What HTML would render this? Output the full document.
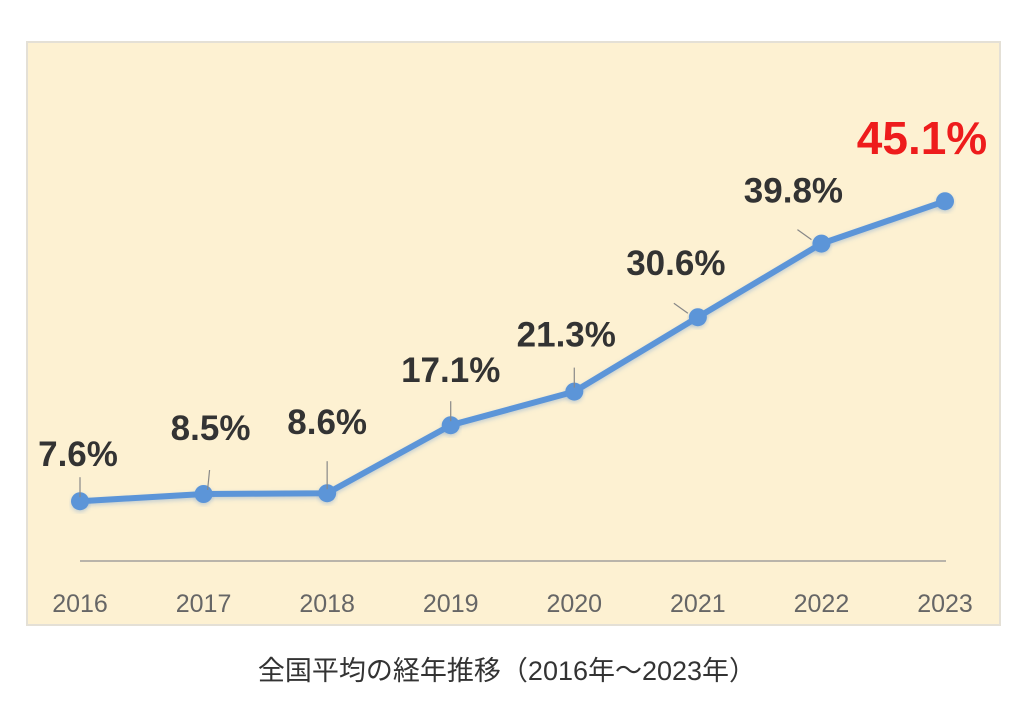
<!DOCTYPE html>
<html><head><meta charset="utf-8"><style>
body{margin:0;background:#fff;width:1024px;height:728px;overflow:hidden}
svg{display:block}
</style></head><body>
<svg width="1024" height="728">
<defs><filter id="sh" x="-10%" y="-10%" width="120%" height="130%"><feDropShadow dx="0" dy="2" stdDeviation="2" flood-color="#5b8fd0" flood-opacity="0.35"/></filter></defs>
<rect x="27" y="42" width="973" height="583" fill="#fdf1d2" stroke="#e4e0d6" stroke-width="2"/>
<line x1="80" y1="561" x2="946" y2="561" stroke="#b9b4aa" stroke-width="2"/>
<g id="xt"></g><g id="lines"></g><g id="marks"></g><g id="labels"></g>
<text x="507" y="680" text-anchor="middle" font-family="'Liberation Sans','Noto Sans CJK JP',sans-serif" font-size="27" fill="#333">全国平均の経年推移（2016年〜2023年）</text>
</svg>
<script>
const categories=["2016","2017","2018","2019","2020","2021","2022","2023"];
const values=[7.6,8.5,8.6,17.1,21.3,30.6,39.8,45.1];
const valueLabels=["7.6%","8.5%","8.6%","17.1%","21.3%","30.6%","39.8%","45.1%"];
const ns="http://www.w3.org/2000/svg";
const x0=80,x1=945;
function xs(i){return x0+(x1-x0)*i/(categories.length-1);}
function ys(v){return 562-8*v;}
function mk(t,a,p){const e=document.createElementNS(ns,t);for(const k in a)e.setAttribute(k,a[k]);p.appendChild(e);return e;}
const xt=document.getElementById('xt'),ln=document.getElementById('lines'),mg=document.getElementById('marks'),lg=document.getElementById('labels');
const ldx=[-2,7,0,0,-8,-22,-28,-23];
const ldy=[-35,-54,-59,-43,-45,-42,-41,-47];
categories.forEach((c,i)=>{
 const t=mk('text',{x:xs(i),y:612,'text-anchor':'middle','font-family':'Liberation Sans,sans-serif','font-size':25,fill:'#666'},xt);
 t.textContent=c;
 
 
});
let d=values.map((v,i)=>(i?'L':'M')+xs(i)+','+ys(v)).join(' ');
const p=mk('path',{d:d,fill:'none',stroke:'#5b95d8','stroke-width':6,'stroke-linejoin':'round',filter:'url(#sh)'},ln);


values.forEach((v,i)=>{
 const x=xs(i),y=ys(v);
 const big=i===values.length-1;
 if(!big){const l=mk('line',{x1:x+(ldx[i]>0?4:(ldx[i]<-10?-10:0)),y1:y-4,x2:x+(ldx[i]>0?6:(ldx[i]<-10?-24:0)),y2:y-(i==2?32:(ldx[i]<-10?14:24)),stroke:'#888','stroke-width':1.2},lg);
 
 }
 const c=mk('circle',{cx:x,cy:y,r:9,fill:'#5b95d8',filter:'url(#sh)'},mg);
 
 
 const t=mk('text',{x:x+ldx[i],y:y+ldy[i],'text-anchor':'middle','font-family':'Liberation Sans,sans-serif','font-weight':'bold','font-size':big?46:35,fill:big?'#ee1c1c':'#333'},lg);
 t.textContent=valueLabels[i];
 
 
});
</script>
</body></html>
